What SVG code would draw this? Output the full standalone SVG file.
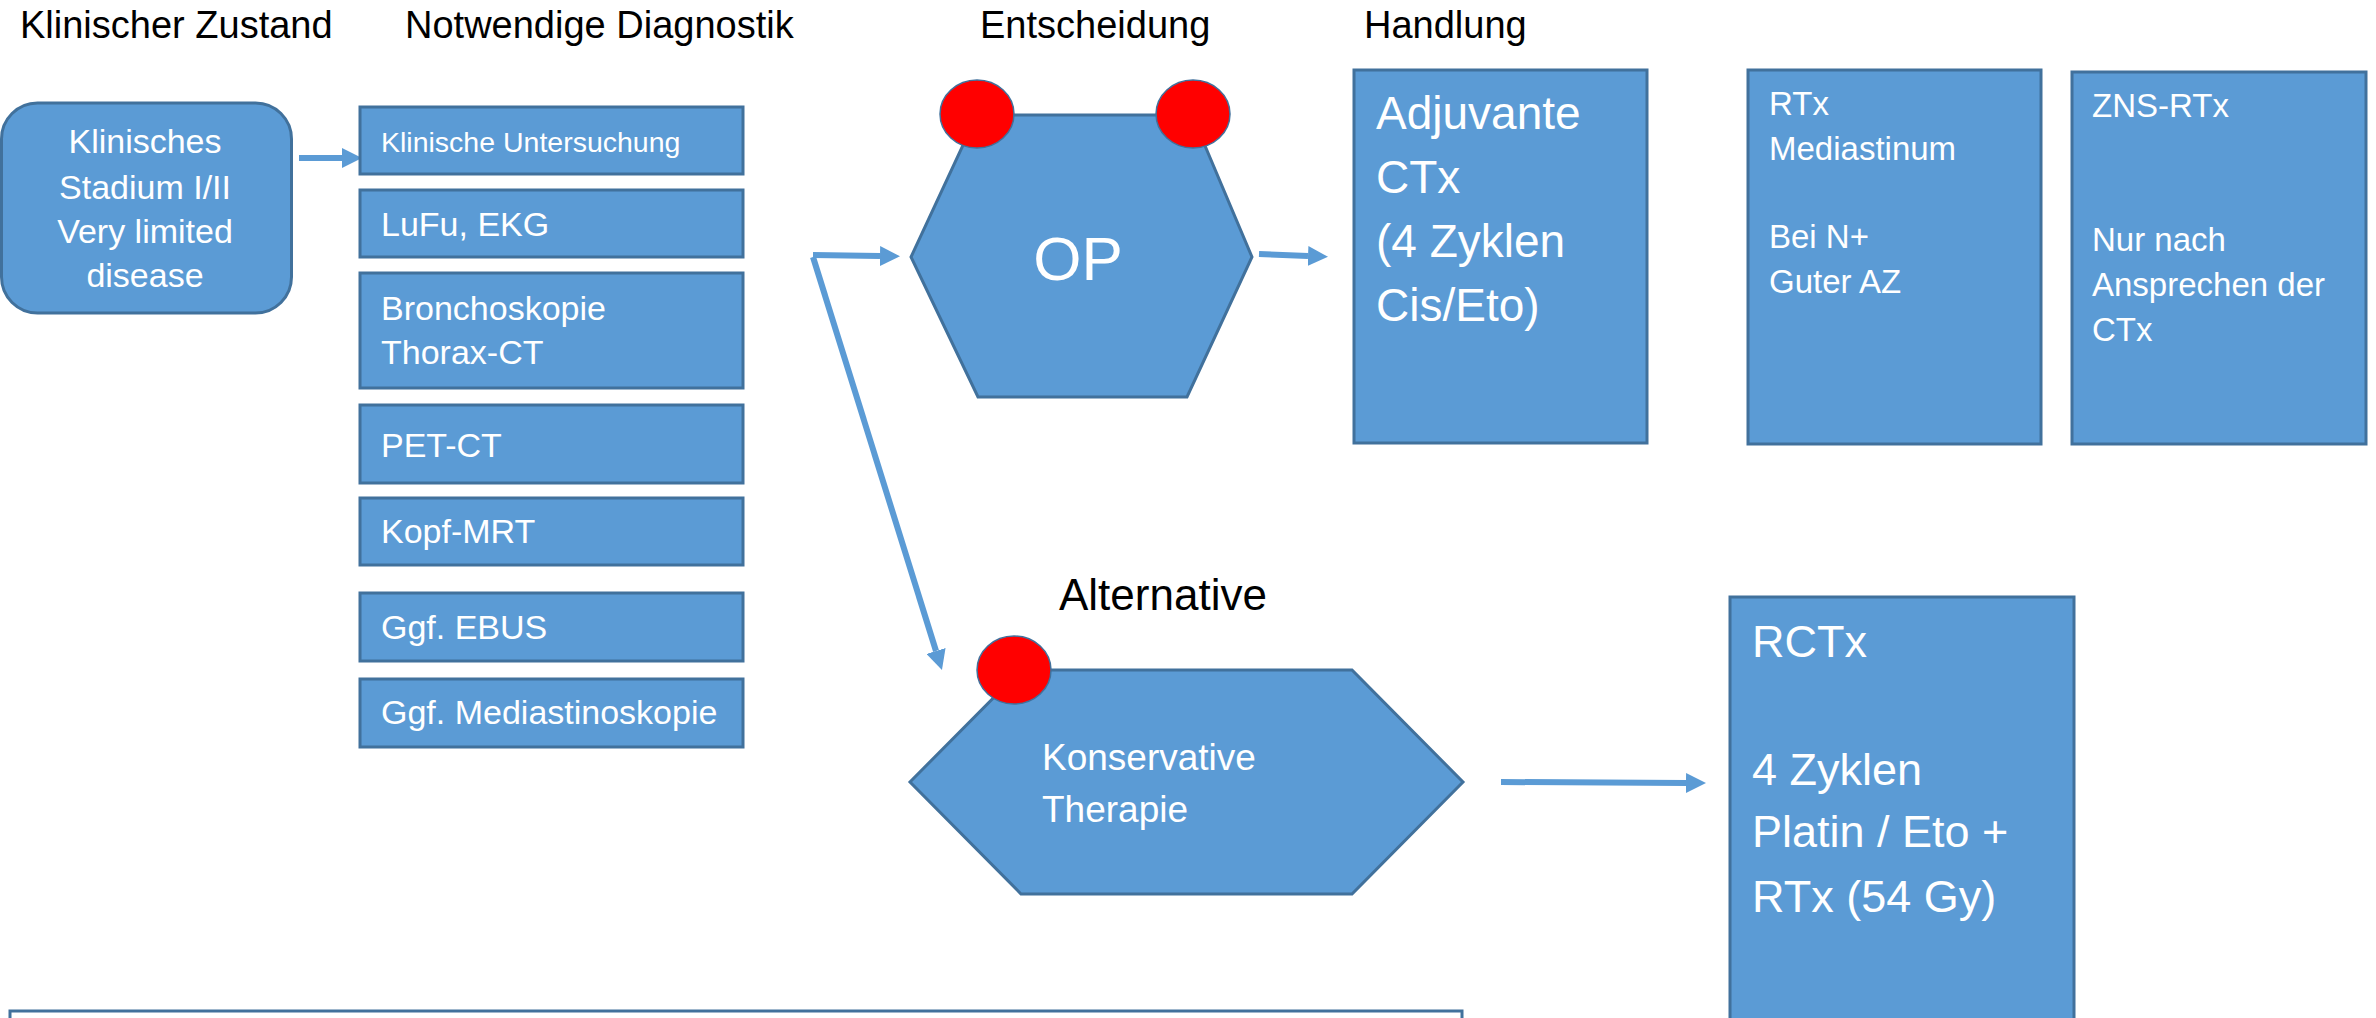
<svg xmlns="http://www.w3.org/2000/svg" width="2376" height="1018" viewBox="0 0 2376 1018">
<style>
  text { font-family: "Liberation Sans", Arial, sans-serif; }
  .hdr { fill: #000000; font-size: 38px; }
  .node { fill: #5B9BD5; stroke: #41719C; stroke-width: 3; }
  .wt { fill: #FFFFFF; }
  .dot { fill: #FF0000; stroke: #41719C; stroke-width: 1.5; }
  .conn { stroke: #5B9BD5; stroke-width: 6; fill: none; }
</style>
<defs>
  <marker id="ah" viewBox="0 0 20 20" refX="0" refY="10" markerWidth="20" markerHeight="20" markerUnits="userSpaceOnUse" orient="auto">
    <path d="M0,0 L20,10 L0,20 Z" fill="#5B9BD5"/>
  </marker>
</defs>
<rect width="2376" height="1018" fill="#FFFFFF"/>

<g id="headers">
  <text class="hdr" x="20" y="38">Klinischer Zustand</text>
  <text class="hdr" x="405" y="38">Notwendige Diagnostik</text>
  <text class="hdr" x="980" y="38">Entscheidung</text>
  <text class="hdr" x="1364" y="38">Handlung</text>
  <text class="hdr" x="1059" y="610" style="font-size:44px">Alternative</text>
</g>

<g id="connectors">
  <line class="conn" x1="299" y1="158" x2="342" y2="158" marker-end="url(#ah)"/>
  <line class="conn" x1="813" y1="255" x2="880" y2="256" marker-end="url(#ah)"/>
  <line class="conn" x1="813" y1="257" x2="936" y2="651" marker-end="url(#ah)"/>
  <line class="conn" x1="1259" y1="254" x2="1308" y2="256" marker-end="url(#ah)"/>
  <line class="conn" x1="1501" y1="782" x2="1686" y2="783" marker-end="url(#ah)"/>
</g>

<g id="n-klinisches">
  <rect class="node" x="1.5" y="103" width="290" height="210" rx="36" ry="36"/>
  <g class="wt" style="font-size:34px" text-anchor="middle">
    <text x="145" y="153">Klinisches</text>
    <text x="145" y="199">Stadium I/II</text>
    <text x="145" y="243">Very limited</text>
    <text x="145" y="287">disease</text>
  </g>
</g>

<g id="n-untersuchung">
  <rect class="node" x="360" y="107" width="383" height="67"/>
  <text class="wt" x="381" y="152" style="font-size:28.5px">Klinische Untersuchung</text>
</g>
<g id="n-lufu">
  <rect class="node" x="360" y="190" width="383" height="67"/>
  <text class="wt" x="381" y="236" style="font-size:34px">LuFu, EKG</text>
</g>
<g id="n-broncho">
  <rect class="node" x="360" y="273" width="383" height="115"/>
  <text class="wt" x="381" y="320" style="font-size:34px">Bronchoskopie</text>
  <text class="wt" x="381" y="364" style="font-size:34px">Thorax-CT</text>
</g>
<g id="n-petct">
  <rect class="node" x="360" y="405" width="383" height="78"/>
  <text class="wt" x="381" y="457" style="font-size:34px">PET-CT</text>
</g>
<g id="n-kopfmrt">
  <rect class="node" x="360" y="498" width="383" height="67"/>
  <text class="wt" x="381" y="543" style="font-size:34px">Kopf-MRT</text>
</g>
<g id="n-ebus">
  <rect class="node" x="360" y="593" width="383" height="68"/>
  <text class="wt" x="381" y="639" style="font-size:34px">Ggf. EBUS</text>
</g>
<g id="n-mediastino">
  <rect class="node" x="360" y="679" width="383" height="68"/>
  <text class="wt" x="381" y="724" style="font-size:34px">Ggf. Mediastinoskopie</text>
</g>

<g id="n-op">
  <polygon class="node" points="977,115 1192,115 1252,257 1187,397 978,397 911,257"/>
  <ellipse class="dot" cx="977" cy="114" rx="37" ry="34"/>
  <ellipse class="dot" cx="1193" cy="114" rx="37" ry="34"/>
  <text class="wt" x="1078" y="280" text-anchor="middle" style="font-size:62px">OP</text>
</g>

<g id="n-adjuvante">
  <rect class="node" x="1354" y="70" width="293" height="373"/>
  <g class="wt" style="font-size:46px">
    <text x="1376" y="129">Adjuvante</text>
    <text x="1376" y="193">CTx</text>
    <text x="1376" y="257">(4 Zyklen</text>
    <text x="1376" y="321">Cis/Eto)</text>
  </g>
</g>

<g id="n-rtx">
  <rect class="node" x="1748" y="70" width="293" height="374"/>
  <g class="wt" style="font-size:33px">
    <text x="1769" y="115">RTx</text>
    <text x="1769" y="160">Mediastinum</text>
    <text x="1769" y="248">Bei N+</text>
    <text x="1769" y="293">Guter AZ</text>
  </g>
</g>

<g id="n-zns">
  <rect class="node" x="2072" y="72" width="294" height="372"/>
  <g class="wt" style="font-size:33px">
    <text x="2092" y="117">ZNS-RTx</text>
    <text x="2092" y="251">Nur nach</text>
    <text x="2092" y="296">Ansprechen der</text>
    <text x="2092" y="341">CTx</text>
  </g>
</g>

<g id="n-konservativ">
  <polygon class="node" points="1021,670 1352,670 1463,782 1352,894 1021,894 910,782"/>
  <ellipse class="dot" cx="1014" cy="670" rx="37" ry="34"/>
  <text class="wt" x="1042" y="770" style="font-size:37px">Konservative</text>
  <text class="wt" x="1042" y="822" style="font-size:37px">Therapie</text>
</g>

<g id="n-rctx">
  <rect class="node" x="1730" y="597" width="344" height="440"/>
  <g class="wt" style="font-size:45px">
    <text x="1752" y="657">RCTx</text>
    <text x="1752" y="785">4 Zyklen</text>
    <text x="1752" y="847">Platin / Eto +</text>
    <text x="1752" y="912">RTx (54 Gy)</text>
  </g>
</g>

<g id="n-bottom">
  <rect x="10" y="1011" width="1452" height="40" fill="#FFFFFF" stroke="#41719C" stroke-width="3"/>
</g>
</svg>
